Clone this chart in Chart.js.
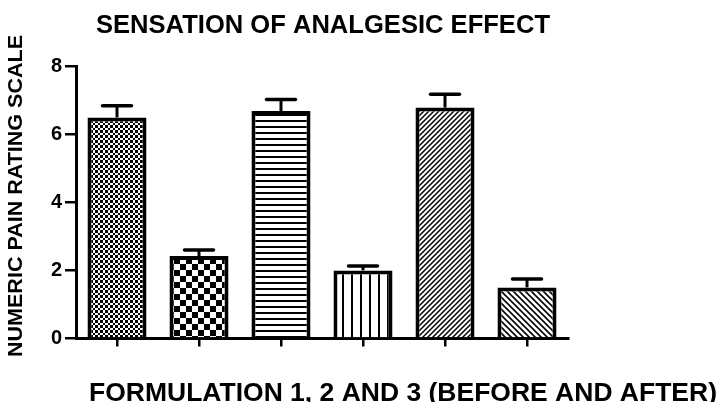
<!DOCTYPE html>
<html>
<head>
<meta charset="utf-8">
<script src="https://cdn.jsdelivr.net/npm/chart.js@4.4.1/dist/chart.umd.min.js"></script>
<style>
html,body{margin:0;padding:0;background:#fff;}
canvas{display:block;}
</style>
</head>
<body>
<canvas id="c" width="721" height="402"></canvas>
<script>
const categories = ['F1 Before', 'F1 After', 'F2 Before', 'F2 After', 'F3 Before', 'F3 After'];
const meanScores = [6.49, 2.42, 6.68, 2.0, 6.78, 1.5];
const errorValues = [0.34, 0.18, 0.34, 0.13, 0.39, 0.25];
const yTicks = [0, 2, 4, 6, 8];
const chartTitle = 'SENSATION OF ANALGESIC EFFECT';
const xTitle = 'FORMULATION 1, 2 AND 3 (BEFORE AND AFTER)';
const yTitle = 'NUMERIC PAIN RATING SCALE';

const FONT = '"Liberation Sans", Arial, sans-serif';
const canvas = document.getElementById('c');
const mainCtx = canvas.getContext('2d');

function makePattern(w, h, draw) {
  const t = document.createElement('canvas');
  t.width = w; t.height = h;
  const x = t.getContext('2d');
  x.fillStyle = '#fff'; x.fillRect(0, 0, w, h);
  x.fillStyle = '#000'; x.strokeStyle = '#000';
  draw(x, w, h);
  return mainCtx.createPattern(t, 'repeat');
}
const patterns = [
  makePattern(5, 5, (x) => { x.fillRect(0, 0, 3, 3); x.fillRect(3, 3, 2, 2); x.fillRect(3, 0, 0, 0); }),
  makePattern(12, 12, (x) => { x.fillRect(0, 0, 6, 6); x.fillRect(6, 6, 6, 6); }),
  makePattern(6, 6, (x) => { x.fillRect(0, 0, 6, 2); }),
  makePattern(9, 9, (x) => { x.fillRect(0, 0, 2, 9); }),
  makePattern(5, 5, (x, w, h) => {
    x.lineWidth = 1.5;
    x.beginPath();
    x.moveTo(0, h); x.lineTo(w, 0);
    x.moveTo(-1, 1); x.lineTo(1, -1);
    x.moveTo(w - 1, h + 1); x.lineTo(w + 1, h - 1);
    x.stroke();
  }),
  makePattern(6, 6, (x, w, h) => {
    x.lineWidth = 1.6;
    x.beginPath();
    x.moveTo(0, 0); x.lineTo(w, h);
    x.moveTo(-1, h - 1); x.lineTo(1, h + 1);
    x.moveTo(w - 1, -1); x.lineTo(w + 1, 1);
    x.stroke();
  })
];

function drawFitted(ctx, text, cx, baseY, width, size, rot) {
  ctx.save();
  ctx.font = 'bold ' + size + 'px ' + FONT;
  ctx.fillStyle = '#000';
  ctx.textAlign = 'center';
  ctx.textBaseline = 'alphabetic';
  const m = ctx.measureText(text).width;
  ctx.translate(cx, baseY);
  if (rot) ctx.rotate(rot);
  ctx.scale(width / m, 1);
  ctx.fillText(text, 0, 0);
  ctx.restore();
}

const errorBarPlugin = {
  id: 'errorBars',
  afterDatasetsDraw(chart) {
    const ctx = chart.ctx;
    const meta = chart.getDatasetMeta(0);
    const ys = chart.scales.y;
    ctx.save();
    ctx.strokeStyle = '#000';
    meta.data.forEach((bar, i) => {
      const top = ys.getPixelForValue(meanScores[i] + errorValues[i]);
      ctx.lineWidth = 3;
      ctx.lineCap = 'butt';
      ctx.beginPath();
      ctx.moveTo(bar.x, bar.y);
      ctx.lineTo(bar.x, top);
      ctx.stroke();
      ctx.lineWidth = 3.5;
      ctx.lineCap = 'round';
      ctx.beginPath();
      ctx.moveTo(bar.x - 14.5, top);
      ctx.lineTo(bar.x + 14.5, top);
      ctx.stroke();
    });
    ctx.restore();
  }
};

const textPlugin = {
  id: 'texts',
  afterDraw(chart) {
    const ctx = chart.ctx;
    drawFitted(ctx, chartTitle, 323, 33, 454, 25, 0);
    drawFitted(ctx, xTitle, 403, 401, 628, 26, 0);
    drawFitted(ctx, yTitle, 22, 196, 322, 21, -Math.PI / 2);
  }
};

new Chart(canvas, {
  type: 'bar',
  data: {
    labels: categories,
    datasets: [{
      data: meanScores,
      backgroundColor: patterns,
      borderColor: '#000',
      borderWidth: 4,
      borderSkipped: 'start',
      barPercentage: 0.72,
      categoryPercentage: 1.0
    }]
  },
  options: {
    responsive: false,
    animation: false,
    devicePixelRatio: 1,
    layout: { padding: { left: 0, right: 153, top: 66, bottom: 43.5 } },
    plugins: { legend: { display: false }, tooltip: { enabled: false }, title: { display: false } },
    scales: {
      x: {
        offset: true,
        grid: { display: true, offset: false, drawOnChartArea: false, drawTicks: true, tickLength: 8, color: '#000', lineWidth: 2.5 },
        border: { display: true, color: '#000', width: 3 },
        ticks: { display: true, callback: () => '', padding: 0 },
        afterFit: (s) => { s.height = 20; }
      },
      y: {
        min: 0, max: 8,
        afterBuildTicks: (s) => { s.ticks = yTicks.map(v => ({ value: v })); },
        grid: { display: true, drawOnChartArea: false, drawTicks: true, tickLength: 11, color: '#000', lineWidth: 2.5 },
        border: { display: true, color: '#000', width: 3 },
        ticks: { color: '#000', padding: 3, font: { family: FONT, size: 20, weight: 'bold' } },
        afterFit: (s) => { s.width = 76; }
      }
    }
  },
  plugins: [errorBarPlugin, textPlugin]
});
</script>
</body>
</html>
